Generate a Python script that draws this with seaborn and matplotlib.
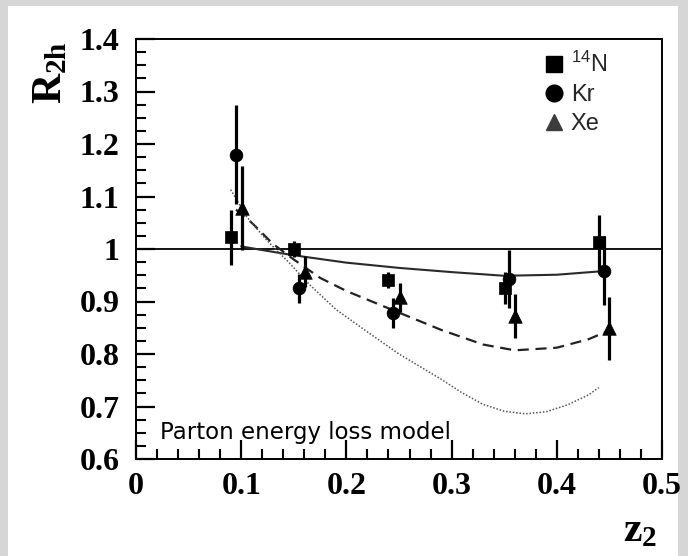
import matplotlib
matplotlib.use('Agg')
import matplotlib.pyplot as plt
import matplotlib.ticker as mtick
from matplotlib.lines import Line2D
from matplotlib.patches import Rectangle
import numpy as np
import pandas as pd
import seaborn as sns

# Measured points (z2, R2h, error)
n_z = [0.090, 0.150, 0.2395, 0.351, 0.440]
n_r = [1.022, 1.000, 0.941, 0.926, 1.013]
n_err = [0.053, 0.016, 0.016, 0.030, 0.052]

kr_z = [0.095, 0.155, 0.244, 0.355, 0.445]
kr_r = [1.180, 0.925, 0.878, 0.943, 0.959]
kr_err = [0.095, 0.027, 0.028, 0.055, 0.065]

xe_z = [0.1005, 0.1606, 0.251, 0.360, 0.4496]
xe_r = [1.079, 0.957, 0.908, 0.872, 0.849]
xe_err = [0.080, 0.030, 0.028, 0.042, 0.060]

# Model curves
solid_z = [0.10, 0.12, 0.15, 0.20, 0.25, 0.30, 0.35, 0.40, 0.445]
solid_r = [1.005, 0.998, 0.988, 0.974, 0.964, 0.956, 0.949, 0.951, 0.958]

dash_z = [0.095, 0.11, 0.13, 0.15, 0.175, 0.20, 0.24, 0.29, 0.33, 0.36, 0.40, 0.43, 0.45]
dash_r = [1.075, 1.050, 1.010, 0.980, 0.945, 0.920, 0.887, 0.846, 0.818, 0.807, 0.812, 0.828, 0.845]

dot_z = [0.09, 0.105, 0.125, 0.145, 0.165, 0.19, 0.22, 0.25, 0.27, 0.29, 0.31,
         0.33, 0.35, 0.37, 0.39, 0.41, 0.43, 0.44]
dot_r = [1.113, 1.062, 1.015, 0.975, 0.932, 0.885, 0.842, 0.800, 0.776, 0.752, 0.726,
         0.704, 0.691, 0.686, 0.690, 0.703, 0.722, 0.736]

x_ticks = [0, 0.1, 0.2, 0.3, 0.4, 0.5]
y_ticks = [0.6, 0.7, 0.8, 0.9, 1.0, 1.1, 1.2, 1.3, 1.4]

sns.set_theme(style='white')
plt.rcParams['font.family'] = ['Liberation Serif', 'DejaVu Serif']
plt.rcParams['mathtext.fontset'] = 'custom'
plt.rcParams['mathtext.rm'] = 'Liberation Serif'
plt.rcParams['mathtext.bf'] = 'Liberation Serif:bold'
plt.rcParams['mathtext.sf'] = 'Liberation Sans'

fig = plt.figure(figsize=(6.88, 5.56), dpi=100, facecolor='#d6d6d6')
# white panel inside the grey border
fig.patches.append(Rectangle((8 / 688, 0), 670 / 688, 1 - 6 / 556,
                             transform=fig.transFigure, facecolor='white',
                             edgecolor='none', zorder=-10))
ax = fig.add_axes([136 / 688, 1 - 459 / 556, 526 / 688, 420 / 556])
ax.set_zorder(1)
ax.set_facecolor('white')

# Reference line at R = 1
ax.axhline(1.0, color='black', lw=1.3, zorder=1)

# Model curves
curves = [
    (solid_z, solid_r, '-', '#2a2a2a', 1.5),
    (dash_z, dash_r, (0, (5, 3)), '#222222', 1.6),
    (dot_z, dot_r, (0, (1, 1.2)), '#555555', 1.1),
]
for cz, cr, ls, col, lw in curves:
    sns.lineplot(x=cz, y=cr, ax=ax, sort=False, color=col, lw=lw,
                 linestyle=ls, zorder=2)

# Data points with error bars
series = [
    (n_z, n_r, n_err, 's', 80),
    (kr_z, kr_r, kr_err, 'o', 85),
    (xe_z, xe_r, xe_err, '^', 95),
]
for zz, rr, ee, mk, size in series:
    ax.errorbar(zz, rr, yerr=ee, fmt='none', ecolor='black', elinewidth=2.3,
                capsize=0, zorder=3)
    sns.scatterplot(x=zz, y=rr, ax=ax, marker=mk, s=size, color='black',
                    edgecolor='black', linewidth=0.5, zorder=4)

ax.set_xlim(0, 0.5)
ax.set_ylim(0.6, 1.4)
ax.set_xticks(x_ticks)
ax.set_yticks(y_ticks)
ax.xaxis.set_major_formatter(mtick.FormatStrFormatter('%g'))
ax.yaxis.set_major_formatter(mtick.FormatStrFormatter('%g'))
ax.xaxis.set_minor_locator(mtick.MultipleLocator(0.02))
ax.yaxis.set_minor_locator(mtick.MultipleLocator(0.025))
ax.tick_params(which='major', direction='in', length=14, width=1.6,
               color='black', labelsize=23, top=False, right=False,
               left=True, bottom=True)
ax.tick_params(which='minor', direction='in', length=7, width=1.5,
               color='black', top=False, right=False, left=True, bottom=True)
ax.tick_params(axis='x', pad=9)
ax.tick_params(axis='y', pad=12)
for lab in ax.get_xticklabels() + ax.get_yticklabels():
    lab.set_fontweight('bold')
    lab.set_color('black')
for sp in ax.spines.values():
    sp.set_color('black')
    sp.set_linewidth(1.4)

ax.set_ylabel(r'$\mathbf{R_{2h}}$', fontsize=30, color='black', loc='top')
ax.yaxis.set_label_coords(-0.125, 0.995)
ax.set_xlabel(r'$\mathbf{z_{2}}$', fontsize=30, color='black', loc='right')
ax.xaxis.set_label_coords(0.99, -0.125)

ax.text(0.023, 0.651, 'Parton energy loss model', fontsize=16.5,
        family='DejaVu Sans', color='black', va='center', ha='left')

handles = [
    Line2D([], [], marker='s', ls='none', color='black', markersize=12),
    Line2D([], [], marker='o', ls='none', color='black', markersize=12),
    Line2D([], [], marker='^', ls='none', color='#3c3c3c', markersize=12),
]
labels = [r'$\mathsf{^{14}N}$', 'Kr', 'Xe']
leg = ax.legend(handles, labels, loc='upper left', bbox_to_anchor=(0.775, 0.97),
                frameon=False, handlelength=0.85, handletextpad=0.3,
                labelspacing=0.3, borderpad=0, borderaxespad=0,
                prop={'family': 'Liberation Sans', 'size': 17})

plt.savefig('out.png', dpi=100, facecolor=fig.get_facecolor())
